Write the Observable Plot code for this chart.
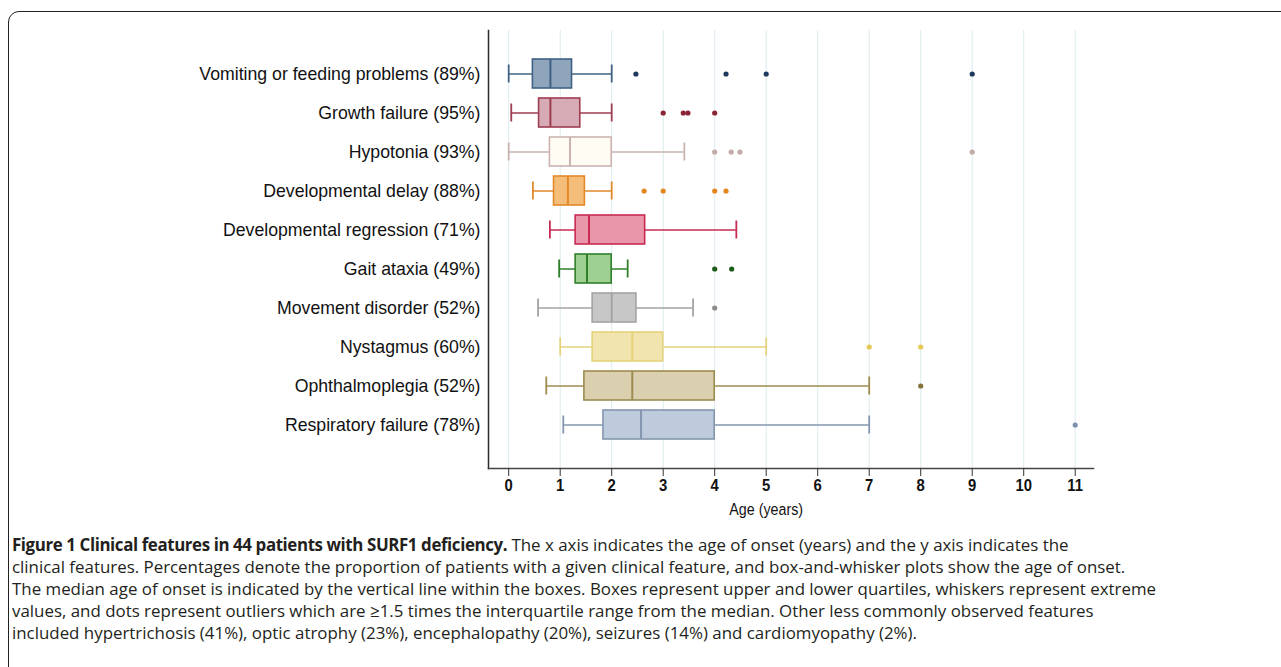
<!DOCTYPE html>
<html><head><meta charset="utf-8">
<script src="https://cdn.jsdelivr.net/npm/d3@7"></script>
<script src="https://cdn.jsdelivr.net/npm/@observablehq/plot@0.6"></script>
<style>
html,body{margin:0;padding:0;background:#fff;}
body{width:1281px;height:667px;overflow:hidden;position:relative;}
#frame{position:absolute;left:8px;top:11px;width:1400px;height:800px;border:1.6px solid #222;border-radius:11px;box-sizing:border-box;}
#chart{position:absolute;left:0;top:0;}
#caption{position:absolute;left:12px;top:534px;font-family:"Open Sans",sans-serif;font-size:17px;line-height:22px;color:#231f20;white-space:nowrap;transform-origin:0 0;}
#caption b{font-weight:700;letter-spacing:-0.4px;}
</style>
</head><body>
<div id="frame"></div>
<div id="chart"></div>
<div id="caption">
<div class="ln"><b>Figure 1 Clinical features in 44 patients with SURF1 deficiency.</b> The x axis indicates the age of onset (years) and the y axis indicates the</div>
<div class="ln">clinical features. Percentages denote the proportion of patients with a given clinical feature, and box-and-whisker plots show the age of onset.</div>
<div class="ln" id="ref">The median age of onset is indicated by the vertical line within the boxes. Boxes represent upper and lower quartiles, whiskers represent extreme</div>
<div class="ln">values, and dots represent outliers which are ≥1.5 times the interquartile range from the median. Other less commonly observed features</div>
<div class="ln">included hypertrichosis (41%), optic atrophy (23%), encephalopathy (20%), seizures (14%) and cardiomyopathy (2%).</div>
</div>
<script>
const categories = [
  "Vomiting or feeding problems (89%)",
  "Growth failure (95%)",
  "Hypotonia (93%)",
  "Developmental delay (88%)",
  "Developmental regression (71%)",
  "Gait ataxia (49%)",
  "Movement disorder (52%)",
  "Nystagmus (60%)",
  "Ophthalmoplegia (52%)",
  "Respiratory failure (78%)"
];
const whiskerLow  = [0,    0.05, 0,    0.47, 0.8,  0.98, 0.57, 1,    0.73, 1.06];
const q1          = [0.47, 0.59, 0.8,  0.88, 1.3,  1.3,  1.63, 1.63, 1.47, 1.84];
const median      = [0.81, 0.81, 1.19, 1.15, 1.56, 1.52, 2,    2.4,  2.4,  2.57];
const q3          = [1.23, 1.39, 2,    1.48, 2.65, 2,    2.48, 3,    4,    4];
const whiskerHigh = [2,    2,    3.41, 2,    4.42, 2.31, 3.58, 5,    7,    7];
const outliers = [
  [2.47, 4.22, 5, 9],
  [3, 3.39, 3.48, 4],
  [4, 4.32, 4.49, 9],
  [2.63, 3, 4, 4.22],
  [],
  [4, 4.33],
  [4],
  [7, 8],
  [8],
  [11]
];
const strokeColors = ["#3f6284","#9e3d51","#cbb3b1","#e3892a","#c92a52","#2f7f2b","#a3a3a3","#e5d27a","#9d8b4f","#8396ae"];
const fillColors   = ["#8fa5bb","#d7abb5","#fffcf4","#f4bd79","#e996aa","#9ed191","#c7c7c7","#f1e4ae","#dad0b0","#bdcbdc"];
const dotColors    = ["#1d3a5e","#8a2434","#c0aba7","#e3861d","#c92a52","#1c5a19","#8c8c8c","#e3cb55","#86733a","#7d91af"];
const xTicks = [0,1,2,3,4,5,6,7,8,9,10,11];

const rows = categories.map((c, i) => ({
  cat: c, lo: whiskerLow[i], q1: q1[i], med: median[i], q3: q3[i], hi: whiskerHigh[i],
  stroke: strokeColors[i], fill: fillColors[i]
}));
const pts = categories.flatMap((c, i) => outliers[i].map(v => ({cat: c, v, color: dotColors[i]})));

const font = '"Liberation Sans", Arial, Helvetica, sans-serif';
const chart = Plot.plot({
  width: 1281,
  height: 530,
  marginLeft: 488,
  marginRight: 188,
  marginTop: 30,
  marginBottom: 62,
  style: {fontFamily: font, background: "transparent", color: "#111"},
  x: {domain: [-0.392, 11.355]},
  y: {domain: categories, paddingInner: 0.246, paddingOuter: 0.625},
  marks: [
    Plot.gridX(xTicks, {stroke: "#dcebee", strokeOpacity: 1, strokeWidth: 1}),
    Plot.frame({anchor: "left", stroke: "#2b2b2b", strokeWidth: 1.5}),
    Plot.frame({anchor: "bottom", stroke: "#444", strokeWidth: 1.5}),
    Plot.axisY({tickSize: 0, tickPadding: 8, fontSize: 17.7, label: null}),
    Plot.axisX(xTicks, {tickSize: 8, tickPadding: 3, fontSize: 16.5, fontWeight: "bold", stroke: "#333", label: null, tickFormat: d => String(d)}),
    Plot.text(["Age (years)"], {x: () => 5, frameAnchor: "bottom", dy: 46, fontSize: 17, text: d => d, fill: "#111"}),
    Plot.ruleY(rows, {y: "cat", x1: "lo", x2: "hi", stroke: "stroke", strokeWidth: 1.5}),
    Plot.tickX(rows, {y: "cat", x: "lo", stroke: "stroke", strokeWidth: 1.8, insetTop: 5.5, insetBottom: 5.5}),
    Plot.tickX(rows, {y: "cat", x: "hi", stroke: "stroke", strokeWidth: 1.8, insetTop: 5.5, insetBottom: 5.5}),
    Plot.barX(rows, {y: "cat", x1: "q1", x2: "q3", fill: "fill", stroke: "stroke", strokeWidth: 1.6}),
    Plot.tickX(rows, {y: "cat", x: "med", stroke: "stroke", strokeWidth: 2}),
    Plot.dot(pts, {y: "cat", x: "v", fill: "color", r: 2.6, stroke: null})
  ]
});
document.getElementById("chart").appendChild(chart);

// narrow the x-axis texts like the reference's condensed type
d3.select(chart).selectAll('g[aria-label="x-axis tick label"] text').each(function () {
  const t = this.getAttribute("transform") || "";
  this.setAttribute("transform", t + " scale(0.9,1)");
});
d3.select(chart).selectAll('g[aria-label="text"] text').each(function () {
  const t = this.getAttribute("transform") || "";
  this.setAttribute("transform", t + " scale(0.84,1)");
});

// fit caption width to reference line length
const cap = document.getElementById("caption");
const ref = document.getElementById("ref");
const w = ref.getBoundingClientRect().width;
const target = 1144;
cap.style.transform = `scaleX(${target / w})`;
</script>
</body></html>
